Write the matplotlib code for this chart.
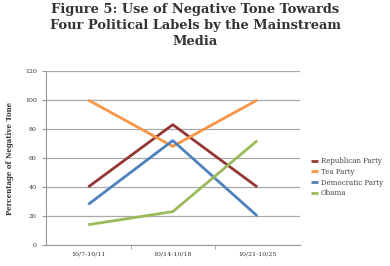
import matplotlib

matplotlib.use("Agg")
import matplotlib.pyplot as plt
import numpy as np

periods = ["10/7-10/11", "10/14-10/18", "10/21-10/25"]
series_names = ["Republican Party", "Tea Party", "Democratic Party", "Obama"]
republican = [40, 83, 40]
tea_party = [100, 68, 100]
democratic = [28, 72, 20]
obama = [14, 23, 72]
y_ticks = [0, 20, 40, 60, 80, 100, 120]

COLORS = ["#943634", "#F79646", "#4F81BD", "#9BBB59"]
SERIF = "DejaVu Serif"

fig = plt.figure(figsize=(3.9, 2.66), dpi=100)
ax = fig.add_axes([0.118, 0.079, 0.65, 0.654])

x = np.arange(len(periods))
for name, vals, col in zip(series_names, [republican, tea_party, democratic, obama], COLORS):
    ax.plot(x, vals, color=col, linewidth=2.0, label=name, solid_capstyle="butt")

ax.set_xlim(-0.5, 2.5)
ax.set_ylim(0, 120)
ax.set_yticks(y_ticks)
ax.set_xticks(x)
ax.set_xticklabels(periods, fontsize=4.5, family=SERIF, color="#333333")
ax.set_xticks([0.5, 1.5], minor=True)
ax.tick_params(axis="x", which="major", length=0, pad=5)
ax.tick_params(axis="x", which="minor", length=3, color="#999999")
ax.tick_params(axis="y", labelsize=4.5, length=3, color="#999999", labelcolor="#333333")
for lbl in ax.get_yticklabels():
    lbl.set_family(SERIF)

ax.grid(True, axis="y", color="#aaaaaa", linewidth=0.9)
ax.set_axisbelow(True)
for side in ["top", "right"]:
    ax.spines[side].set_visible(False)
ax.spines["left"].set_color("#999999")
ax.spines["bottom"].set_color("#999999")

ax.set_ylabel("Percentage of Negative Tone", fontsize=5, family=SERIF, fontweight="bold",
              color="#333333", labelpad=8)

ax.legend(loc="center left", bbox_to_anchor=(1.02, 0.39), frameon=False,
          prop={"family": SERIF, "size": 5}, handlelength=1.0, handletextpad=0.4,
          labelspacing=0.4, labelcolor="#444444")

fig.suptitle("Figure 5: Use of Negative Tone Towards\nFour Political Labels by the Mainstream\nMedia",
             x=0.5, y=0.99, fontsize=9.4, fontweight="bold", family=SERIF, color="#333333",
             linespacing=1.3)

fig.savefig("out.png", dpi=100)
